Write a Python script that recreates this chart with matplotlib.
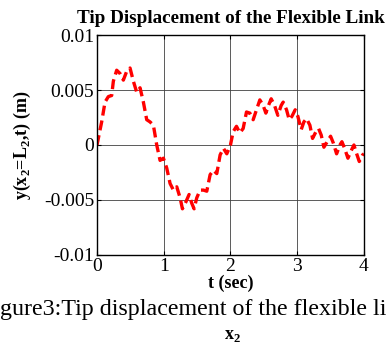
import numpy as np
import matplotlib.pyplot as plt

plt.rcParams['font.family'] = ['Liberation Serif', 'DejaVu Serif']
plt.rcParams['mathtext.fontset'] = 'custom'
plt.rcParams['mathtext.rm'] = 'Liberation Serif'
plt.rcParams['mathtext.bf'] = 'Liberation Serif:bold'

# tip displacement
t = [0.0, 0.07, 0.12, 0.17, 0.22, 0.245, 0.295, 0.345, 0.395, 0.445, 0.495, 0.545,
     0.595, 0.645, 0.695, 0.745, 0.795, 0.845, 0.895, 0.945, 0.995, 1.045, 1.095,
     1.145, 1.195, 1.245, 1.28, 1.33, 1.38, 1.42, 1.455, 1.495, 1.545, 1.595, 1.645,
     1.695, 1.745, 1.795, 1.845, 1.895, 1.945, 2.0, 2.04, 2.09, 2.14, 2.19, 2.24,
     2.29, 2.34, 2.39, 2.44, 2.49, 2.53, 2.57, 2.61, 2.66, 2.71, 2.76, 2.79, 2.84,
     2.88, 2.92, 2.97, 3.01, 3.06, 3.10, 3.14, 3.19, 3.23, 3.28, 3.32, 3.36, 3.40,
     3.47, 3.50, 3.54, 3.59, 3.64, 3.67, 3.71, 3.76, 3.81, 3.85, 3.88, 3.93, 3.98, 4.0]
y = [0.0, 0.0021, 0.0039, 0.0044, 0.0045, 0.0058, 0.0068, 0.0065, 0.0059, 0.0067,
     0.0070, 0.0058, 0.0048, 0.0052, 0.0039, 0.0023, 0.0021, 0.0018, 0.0, -0.0014,
     -0.0012, -0.0021, -0.0035, -0.0041, -0.0038, -0.0048, -0.0058, -0.0052, -0.0045,
     -0.0053, -0.0058, -0.0048, -0.0041, -0.0041, -0.0042, -0.0027, -0.0023, -0.0026,
     -0.0009, -0.0003, -0.0008, 0.0, 0.0012, 0.0017, 0.0011, 0.0015, 0.0030, 0.0029,
     0.0023, 0.0032, 0.0041, 0.0036, 0.0029, 0.0036, 0.0042, 0.0036, 0.0027, 0.0036,
     0.0039, 0.0032, 0.0023, 0.0026, 0.0032, 0.0026, 0.0014, 0.0021, 0.0024, 0.0018,
     0.0006, 0.0012, 0.0015, 0.0009, -0.0002, 0.0005, 0.0008, 0.0002, -0.0008, 0.0,
     0.0003, -0.0003, -0.0012, -0.0005, 0.0, -0.0006, -0.0015, -0.0009, -0.0008]

xticks = [0, 1, 2, 3, 4]
yticks = [-0.01, -0.005, 0, 0.005, 0.01]
ytick_labels = ['-0.01', '-0.005', '0', '0.005', '0.01']

fig = plt.figure(figsize=(3.88, 3.55), dpi=100)
ax = fig.add_axes([0.25, 0.2817, 0.688, 0.6197])

ax.plot(t, y, color='red', linestyle='--', linewidth=2.4, dashes=(3.0, 1.5))

ax.set_xlim(0, 4)
ax.set_ylim(-0.01, 0.01)
ax.set_xticks(xticks)
ax.set_yticks(yticks)
ax.set_yticklabels(ytick_labels)
ax.grid(True, color='0.25', linewidth=0.6, linestyle='-')
ax.tick_params(direction='in', top=True, right=True, labelsize=14, length=3, pad=2)
for s in ax.spines.values():
    s.set_linewidth(1.0)

ax.set_title('Tip Displacement of the Flexible Link', fontsize=13.8, fontweight='bold', pad=9)
ax.set_xlabel('t (sec)', fontsize=13, fontweight='bold', labelpad=0)
ax.set_ylabel(r'y(x$_\mathbf{2}$=L$_\mathbf{2}$,t) (m)', fontsize=13, fontweight='bold', labelpad=8)

fig.text(0.0, 0.128, 'gure3:Tip displacement of the flexible li', fontsize=17.3, ha='left', va='center')
fig.text(0.6, 0.055, r'x$_\mathbf{2}$', fontsize=13, fontweight='bold', ha='center', va='center')

fig.savefig('out.png', dpi=100)
